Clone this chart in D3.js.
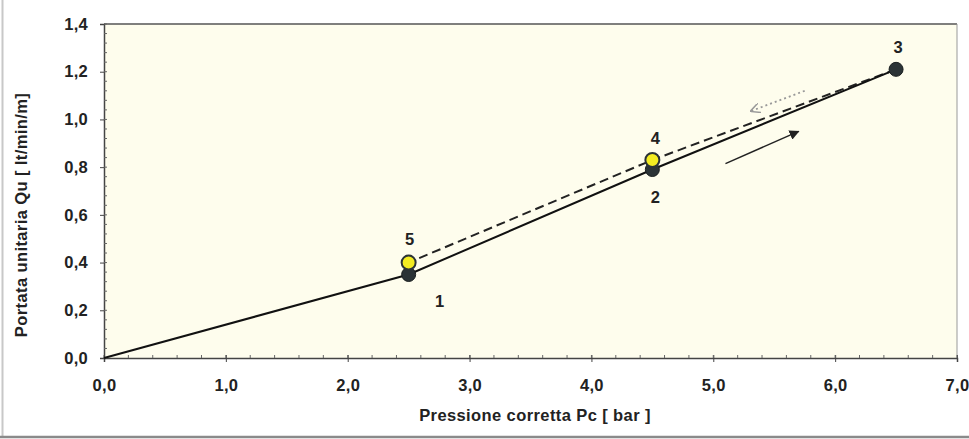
<!DOCTYPE html>
<html><head><meta charset="utf-8">
<script src="https://cdn.jsdelivr.net/npm/d3@7"></script>
<style>body{margin:0;background:#fff}svg{display:block}text{font-family:"Liberation Sans",Arial,sans-serif}</style>
</head><body><svg id="c" width="969" height="439"></svg>
<script>
// data
const loadX = [0.0, 2.5, 4.5, 6.5];
const loadY = [0.0, 0.35, 0.79, 1.21];
const unloadX = [6.5, 4.5, 2.5];
const unloadY = [1.21, 0.83, 0.40];
const pointIds = ["1", "2", "3", "4", "5"];
const pointX = [2.5, 4.5, 6.5, 4.5, 2.5];
const pointY = [0.35, 0.79, 1.21, 0.83, 0.40];
const pointKind = ["load", "load", "load", "unload", "unload"];
const xTicks = [0, 1, 2, 3, 4, 5, 6, 7];
const yTicks = [0, 0.2, 0.4, 0.6, 0.8, 1.0, 1.2, 1.4];
const arrowUp = [[5.1, 0.815], [5.7, 0.95]];
const arrowDown = [[5.75, 1.12], [5.31, 1.035]];

const svg = d3.select("#c");
const L = 104, R = 957, T = 24, B = 358;
const x = d3.scaleLinear().domain([0, 7]).range([L, R]);
const y = d3.scaleLinear().domain([0, 1.4]).range([B, T]);
const fmt = d => d3.format(".1f")(d).replace(".", ",");

// outer frame
svg.append("line").attr("x1", 2.5).attr("x2", 2.5).attr("y1", 0).attr("y2", 436).attr("stroke", "#c8c8c8").attr("stroke-width", 2);
svg.append("line").attr("x1", 0).attr("x2", 969).attr("y1", 437).attr("y2", 437).attr("stroke", "#8a8a8a").attr("stroke-width", 2.5);

// plot background
svg.append("rect").attr("x", L).attr("y", T).attr("width", R - L).attr("height", B - T).attr("fill", "#fefded");
svg.append("line").attr("x1", L).attr("x2", R).attr("y1", T).attr("y2", T).attr("stroke", "#555").attr("stroke-width", 1.5);
svg.append("line").attr("x1", R).attr("x2", R).attr("y1", T).attr("y2", B).attr("stroke", "#999").attr("stroke-width", 1);

const fs = 16.5;
// axes
const xAxis = d3.axisBottom(x).tickValues(xTicks).tickFormat(fmt).tickSize(4).tickPadding(17);
const gx = svg.append("g").attr("transform", `translate(0,${B})`).call(xAxis);
gx.select(".domain").attr("stroke", "#444").attr("stroke-width", 1.5);
gx.selectAll(".tick line").attr("stroke", "#444").attr("y1", -3).attr("y2", 4);
gx.selectAll("text").attr("font-size", fs).attr("font-weight", "bold").attr("fill", "#222").attr("letter-spacing", 0.3);
const xMinor = d3.range(0, 7.001, 0.2);
svg.append("g").selectAll("line").data(xMinor).join("line")
  .attr("x1", d => x(d)).attr("x2", d => x(d)).attr("y1", B - 3).attr("y2", B).attr("stroke", "#666");

const yAxis = d3.axisLeft(y).tickValues(yTicks).tickFormat(fmt).tickSize(4).tickPadding(12);
const gy = svg.append("g").attr("transform", `translate(${L},0)`).call(yAxis);
gy.select(".domain").attr("stroke", "#444").attr("stroke-width", 1.5);
gy.selectAll(".tick line").attr("stroke", "#444");
gy.selectAll("text").attr("font-size", fs).attr("font-weight", "bold").attr("fill", "#222").attr("letter-spacing", 0.3);
const yMinor = d3.range(0, 1.4001, 0.04);
svg.append("g").selectAll("line").data(yMinor).join("line")
  .attr("x1", L).attr("x2", L + 3).attr("y1", d => y(d)).attr("y2", d => y(d)).attr("stroke", "#666");

// titles
svg.append("text").attr("x", 535).attr("y", 421).attr("text-anchor", "middle").attr("font-size", fs).attr("font-weight", "bold").attr("fill", "#222").attr("letter-spacing", 0.4).text("Pressione corretta Pc [ bar ]");
svg.append("text").attr("transform", "translate(27,215) rotate(-90)").attr("text-anchor", "middle").attr("font-size", fs).attr("font-weight", "bold").attr("fill", "#222").attr("letter-spacing", 0.4).text("Portata unitaria Qu [ lt/min/m]");

// lines
const line = d3.line().x(d => x(d[0])).y(d => y(d[1]));
svg.append("path").datum(unloadX.map((v, i) => [v, unloadY[i]])).attr("d", line)
  .attr("fill", "none").attr("stroke", "#222").attr("stroke-width", 2).attr("stroke-dasharray", "9,5");
svg.append("path").datum(loadX.map((v, i) => [v, loadY[i]])).attr("d", line)
  .attr("fill", "none").attr("stroke", "#111").attr("stroke-width", 2);

// arrows
const defs = svg.append("defs");
defs.append("marker").attr("id", "ah").attr("viewBox", "0 0 10 10").attr("refX", 9).attr("refY", 5)
  .attr("markerWidth", 10).attr("markerHeight", 10).attr("markerUnits", "userSpaceOnUse").attr("orient", "auto")
  .append("path").attr("d", "M0,0 L10,5 L0,10 Z").attr("fill", "#222");
defs.append("marker").attr("id", "ah2").attr("viewBox", "0 0 10 10").attr("refX", 9).attr("refY", 5)
  .attr("markerWidth", 10).attr("markerHeight", 10).attr("markerUnits", "userSpaceOnUse").attr("orient", "auto")
  .append("path").attr("d", "M0,0 L10,5 L0,10").attr("fill", "none").attr("stroke", "#999").attr("stroke-width", 1.5);
svg.append("path").datum(arrowUp).attr("d", line).attr("stroke", "#222").attr("stroke-width", 1.5).attr("fill", "none").attr("marker-end", "url(#ah)");
svg.append("path").datum(arrowDown).attr("d", line).attr("stroke", "#999").attr("stroke-width", 1.8).attr("stroke-dasharray", "2,3").attr("fill", "none").attr("marker-end", "url(#ah2)");

// points
const pts = pointIds.map((id, i) => ({id, x: pointX[i], y: pointY[i], k: pointKind[i]}));
svg.append("g").selectAll("circle").data(pts.filter(p => p.k === "load")).join("circle")
  .attr("cx", d => x(d.x)).attr("cy", d => y(d.y)).attr("r", 7).attr("fill", "#2b3336").attr("stroke", "#1a1f20").attr("stroke-width", 1);
svg.append("g").selectAll("circle").data(pts.filter(p => p.k === "unload")).join("circle")
  .attr("cx", d => x(d.x)).attr("cy", d => y(d.y)).attr("r", 7).attr("fill", "#f3ec22").attr("stroke", "#2b3336").attr("stroke-width", 2);

// labels
const lblOff = {"1": [31, 28], "2": [3, 29], "3": [2, -21], "4": [3, -20], "5": [1, -22]};
svg.append("g").selectAll("text").data(pts).join("text")
  .attr("x", d => x(d.x) + lblOff[d.id][0]).attr("y", d => y(d.y) + lblOff[d.id][1])
  .attr("text-anchor", "middle").attr("dominant-baseline", "middle")
  .attr("font-size", fs).attr("font-weight", "bold").attr("fill", "#222").text(d => d.id);
</script></body></html>
